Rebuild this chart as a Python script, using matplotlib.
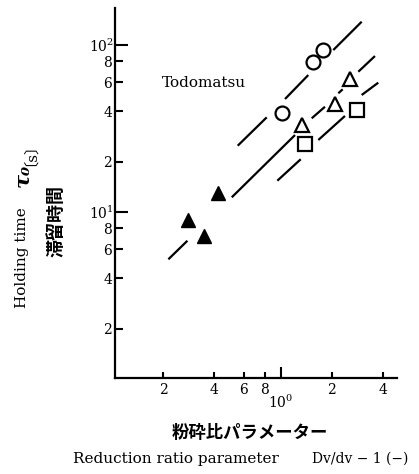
import matplotlib
matplotlib.use("Agg")
import matplotlib.pyplot as plt

plt.rcParams['font.family'] = ['DejaVu Serif', 'Noto Sans CJK JP']
plt.rcParams['mathtext.fontset'] = 'dejavuserif'

circle_x = [1.01, 1.553, 1.779]
circle_y = [39.0, 79.4, 94.0]
open_tri_x = [1.326, 2.087, 2.578]
open_tri_y = [33.2, 44.6, 62.4]
square_x = [1.387, 2.805]
square_y = [25.5, 40.8]
filled_tri_x = [0.283, 0.350, 0.426]
filled_tri_y = [8.96, 7.18, 12.94]

# drawn pieces of the fitted lines (start, end)
circle_fit_x = [(0.554, 0.823), (1.056, 1.450), (2.039, 3.003)]
circle_fit_y = [(24.95, 36.9), (47.5, 66.1), (93.3, 137.9)]
tri_fit_x = [(0.2153, 0.2791), (0.511, 1.210), (1.519, 1.821), (2.183, 2.318), (2.868, 3.599)]
tri_fit_y = [(5.21, 6.73), (12.25, 28.9), (36.4, 42.7), (51.4, 54.3), (69.2, 85.9)]
square_fit_x = [(0.951, 1.308), (1.663, 2.391), (3.003, 3.765)]
square_fit_y = [(15.4, 20.7), (27.0, 37.6), (50.2, 59.5)]

x_minor = [0.2, 0.4, 0.6, 0.8, 2, 4]
x_minor_labels = ['2', '4', '6', '8', '2', '4']
y_minor = [2, 4, 6, 8, 20, 40, 60, 80]
y_minor_labels = ['2', '4', '6', '8', '2', '4', '6', '8']

W, H = 419, 474
fig = plt.figure(figsize=(W / 100, H / 100), dpi=100)
ax = fig.add_axes([115 / W, 1 - 378 / H, 282 / W, 370 / H])
ax.set_xscale('log')
ax.set_yscale('log')
ax.set_xlim(0.104, 4.86)
ax.set_ylim(1.014, 166.6)

for xs_list, ys_list in [(circle_fit_x, circle_fit_y), (tri_fit_x, tri_fit_y),
                         (square_fit_x, square_fit_y)]:
    for xs, ys in zip(xs_list, ys_list):
        ax.plot(xs, ys, color='k', lw=1.6, solid_capstyle='butt')

ax.plot(circle_x, circle_y, 'o', ms=10, mfc='white', mec='k', mew=1.6, ls='none')
ax.plot(open_tri_x, open_tri_y, '^', ms=10, mfc='white', mec='k', mew=1.6, ls='none')
ax.plot(square_x, square_y, 's', ms=9.5, mfc='white', mec='k', mew=1.6, ls='none')
ax.plot(filled_tri_x, filled_tri_y, '^', ms=10.5, mfc='k', mec='k', ls='none')

for s in ['top', 'right']:
    ax.spines[s].set_visible(False)
for s in ['left', 'bottom']:
    ax.spines[s].set_linewidth(1.6)

ax.set_xticks([1], [r'$10^0$'])
ax.set_xticks(x_minor, x_minor_labels, minor=True)
ax.set_yticks([10, 100], [r'$10^1$', r'$10^2$'])
ax.set_yticks(y_minor, y_minor_labels, minor=True)

ax.tick_params(axis='x', which='major', direction='in', length=8, width=1.5, pad=11, labelsize=10)
ax.tick_params(axis='x', which='minor', direction='in', length=4.5, width=1.5, pad=3.5, labelsize=10)
ax.tick_params(axis='y', which='major', direction='in', length=9.4, width=1.5, pad=1, labelsize=10)
ax.tick_params(axis='y', which='minor', direction='in', length=5.8, width=1.5, pad=2, labelsize=10)

fig.text(162 / W, 1 - 83 / H, 'Todomatsu', fontsize=11, ha='left', va='center')

fig.text(22 / W, 1 - 258 / H, 'Holding time', rotation=90, fontsize=11,
         ha='center', va='center')
fig.text(22 / W, 1 - 175 / H, 'τ₀', rotation=90, fontsize=15, fontweight='bold',
         fontstyle='italic', ha='center', va='center')
fig.text(22 / W, 1 - 147 / H, '〔s〕', rotation=90, fontsize=11, ha='center', va='center')
fig.text(57 / W, 1 - 221 / H, '滞留時間', rotation=90, fontsize=13, fontweight='bold',
         ha='center', va='center')

fig.text(250 / W, 1 - 433 / H, '粉砕比パラメーター', fontsize=12.5, fontweight='bold',
         ha='center', va='center')
fig.text(73 / W, 1 - 459 / H, 'Reduction ratio parameter', fontsize=11,
         ha='left', va='center')
fig.text(312 / W, 1 - 459 / H, 'Dv/dv − 1 (−)', fontsize=10, ha='left', va='center')

fig.savefig('out.png', dpi=100, facecolor='white')
